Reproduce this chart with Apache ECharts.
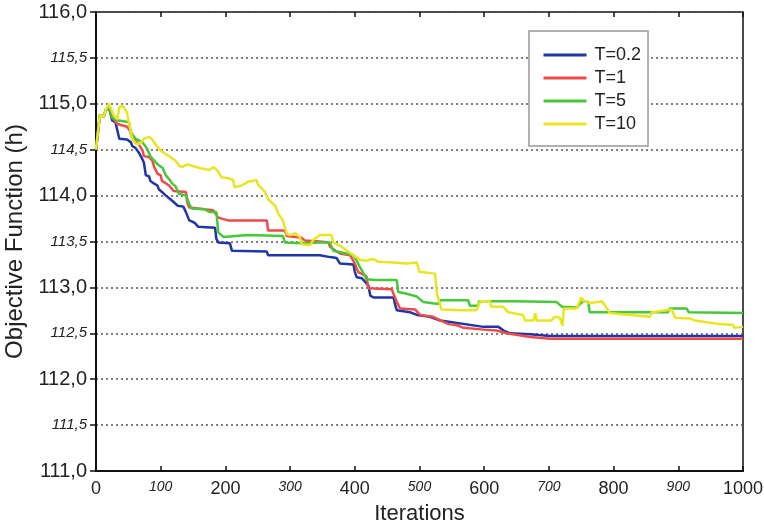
<!DOCTYPE html>
<html>
<head>
<meta charset="utf-8">
<script src="https://cdn.jsdelivr.net/npm/echarts@6/dist/echarts.min.js"></script>
<style>
html,body{margin:0;padding:0;background:#fff;}
#chart{width:764px;height:530px;}
</style>
</head>
<body>
<div id="chart"></div>
<script>
// ---- data ----
const seriesNames = ['T=0.2', 'T=1', 'T=5', 'T=10'];
const xTickLabels = ['0','100','200','300','400','500','600','700','800','900','1000'];
const yTickLabels = ['111,0','111,5','112,0','112,5','113,0','113,5','114,0','114,5','115,0','115,5','116,0'];

const dataT02 = [[0,114.5],[3,114.5],[6,114.88],[12,114.86],[15,114.93],[20,114.96],[25,114.82],[30,114.8],[36,114.62],[48,114.61],[54,114.58],[56,114.54],[61,114.52],[66,114.47],[70,114.42],[74,114.36],[77,114.22],[82,114.21],[84,114.16],[90,114.13],[95,114.11],[97,114.07],[102,114.04],[108,114.0],[115,113.96],[120,113.93],[126,113.89],[135,113.88],[139,113.82],[144,113.73],[148,113.72],[153,113.7],[158,113.66],[184,113.65],[186,113.53],[189,113.49],[207,113.48],[210,113.4],[264,113.39],[266,113.35],[346,113.35],[362,113.33],[372,113.32],[377,113.26],[398,113.25],[400,113.17],[403,113.11],[411,113.1],[421,113.02],[424,112.91],[429,112.89],[460,112.89],[462,112.82],[465,112.75],[485,112.73],[496,112.7],[516,112.68],[532,112.64],[599,112.57],[622,112.57],[630,112.53],[640,112.5],[671,112.49],[702,112.47],[1000,112.47]];

const dataT1 = [[0,114.5],[3,114.5],[6,114.88],[12,114.86],[15,114.93],[20,114.97],[25,114.85],[33,114.78],[36,114.76],[48,114.75],[53,114.7],[56,114.62],[66,114.56],[72,114.49],[74,114.43],[82,114.42],[87,114.38],[90,114.31],[95,114.24],[100,114.22],[102,114.16],[113,114.11],[120,114.05],[139,114.04],[141,113.93],[144,113.87],[181,113.84],[184,113.82],[189,113.76],[204,113.73],[264,113.73],[266,113.62],[292,113.62],[295,113.56],[318,113.54],[323,113.51],[346,113.5],[359,113.49],[362,113.44],[377,113.37],[393,113.35],[400,113.26],[405,113.17],[418,113.12],[421,112.99],[457,112.98],[465,112.84],[470,112.77],[493,112.76],[501,112.7],[521,112.68],[532,112.64],[545,112.6],[557,112.59],[568,112.56],[599,112.54],[619,112.53],[635,112.5],[671,112.46],[702,112.44],[1000,112.44]];

const dataT5 = [[0,114.5],[3,114.5],[6,114.88],[12,114.86],[15,114.93],[20,114.97],[25,114.85],[33,114.82],[51,114.8],[54,114.69],[61,114.62],[72,114.58],[79,114.51],[84,114.43],[90,114.38],[97,114.33],[103,114.3],[108,114.22],[113,114.18],[118,114.13],[123,114.1],[128,114.02],[139,114.0],[141,113.97],[144,113.91],[148,113.86],[168,113.85],[176,113.82],[186,113.82],[189,113.6],[197,113.55],[235,113.57],[289,113.56],[292,113.49],[318,113.48],[346,113.49],[361,113.49],[367,113.4],[387,113.37],[398,113.35],[403,113.29],[408,113.22],[413,113.16],[418,113.09],[431,113.08],[465,113.08],[467,112.95],[480,112.93],[496,112.9],[506,112.84],[529,112.82],[532,112.86],[575,112.86],[578,112.8],[591,112.8],[592,112.85],[645,112.85],[648,112.84],[712,112.84],[720,112.79],[743,112.78],[748,112.82],[753,112.85],[761,112.84],[763,112.73],[884,112.73],[887,112.77],[913,112.77],[916,112.73],[1000,112.72]];

const dataT10 = [[0,114.5],[3,114.5],[6,114.88],[9,114.9],[12,114.86],[15,114.93],[18,114.92],[20,115.0],[23,114.95],[27,114.88],[30,114.87],[33,114.83],[36,114.96],[40,114.98],[44,114.95],[48,114.9],[53,114.72],[56,114.62],[61,114.57],[66,114.56],[70,114.58],[74,114.62],[82,114.64],[86,114.62],[92,114.56],[100,114.49],[108,114.45],[115,114.42],[123,114.38],[128,114.33],[133,114.31],[141,114.34],[151,114.32],[160,114.3],[168,114.29],[175,114.28],[182,114.31],[188,114.27],[194,114.2],[205,114.19],[212,114.17],[214,114.09],[225,114.11],[235,114.15],[248,114.17],[251,114.11],[256,114.08],[261,114.04],[266,113.96],[272,113.92],[277,113.89],[282,113.8],[289,113.73],[292,113.65],[295,113.58],[300,113.57],[308,113.59],[315,113.55],[318,113.47],[331,113.46],[336,113.52],[346,113.57],[364,113.57],[367,113.49],[378,113.45],[388,113.4],[398,113.35],[408,113.3],[418,113.29],[428,113.31],[436,113.28],[459,113.27],[480,113.26],[496,113.27],[500,113.17],[524,113.15],[527,112.93],[534,112.76],[563,112.75],[588,112.75],[594,112.85],[609,112.85],[611,112.79],[629,112.79],[637,112.73],[660,112.7],[663,112.64],[676,112.64],[679,112.72],[681,112.64],[704,112.64],[709,112.68],[717,112.67],[721,112.58],[723,112.77],[743,112.77],[750,112.89],[754,112.85],[763,112.83],[776,112.84],[782,112.85],[787,112.8],[794,112.72],[825,112.7],[828,112.68],[856,112.68],[859,112.73],[890,112.76],[895,112.67],[918,112.66],[926,112.64],[944,112.62],[964,112.6],[985,112.59],[986,112.56],[1000,112.57]];

const seriesData = [dataT02, dataT1, dataT5, dataT10];
const seriesColors = ['#1f35a8', '#f04a4a', '#46c83a', '#e9e522'];

// ---- chart ----
const chart = echarts.init(document.getElementById('chart'), null, {renderer: 'canvas'});
const FONT = 'Liberation Sans, Arial, sans-serif';

const option = {
  animation: false,
  backgroundColor: '#fff',
  grid: {left: 96, right: 21, top: 12, bottom: 59, show: true, borderColor: '#111', borderWidth: 1.5, backgroundColor: 'transparent', containLabel: false, outerBoundsMode: 'none'},
  legend: {
    data: seriesNames,
    orient: 'vertical',
    left: 529, top: 31,
    padding: [15, 7, 13, 13],
    itemWidth: 43, itemHeight: 14, itemGap: 5,
    borderColor: '#999', borderWidth: 1.5,
    backgroundColor: '#fff',
    textStyle: {fontFamily: FONT, fontSize: 18, color: '#222', padding: [0,0,0,3]},
    itemStyle: {opacity: 0},
    lineStyle: {width: 3}
  },
  xAxis: [{
    type: 'value', min: 0, max: 1000, interval: 100,
    name: 'Iterations', nameLocation: 'middle', nameGap: 32,
    nameTextStyle: {fontFamily: FONT, fontSize: 22, color: '#222'},
    axisLine: {show: true, lineStyle: {color: '#111', width: 2}},
    axisTick: {show: true, inside: true, length: 5, lineStyle: {color: '#111', width: 1.5}},
    axisLabel: {
      margin: 9,
      formatter: function (v) {
        const i = Math.round(v / 100);
        const s = xTickLabels[i];
        return (i % 2 === 0) ? '{b|' + s + '}' : '{s|' + s + '}';
      },
      rich: {
        b: {fontFamily: FONT, fontSize: 18, color: '#222'},
        s: {fontFamily: FONT, fontSize: 14, fontStyle: 'italic', color: '#222'}
      }
    },
    splitLine: {show: false}
  }, {
    type: 'value', min: 0, max: 1000, interval: 100, position: 'top',
    axisLine: {show: false},
    axisTick: {show: true, inside: true, length: 5, lineStyle: {color: '#111', width: 1.5}},
    axisLabel: {show: false},
    splitLine: {show: false}
  }],
  yAxis: [{
    type: 'value', min: 111, max: 116, interval: 0.5,
    name: 'Objective Function (h)', nameLocation: 'middle', nameGap: 64, nameRotate: 90,
    nameTextStyle: {fontFamily: FONT, fontSize: 24, color: '#222'},
    axisLine: {show: true, lineStyle: {color: '#111', width: 2}},
    axisTick: {show: true, inside: false, length: 6, interval: function (index) { return index % 2 === 0; }, lineStyle: {color: '#111', width: 1.5}},
    axisLabel: {
      margin: 9,
      formatter: function (v) {
        const i = Math.round((v - 111) / 0.5);
        const s = yTickLabels[i];
        return (i % 2 === 0) ? '{b|' + s + '}' : '{s|' + s + '}';
      },
      rich: {
        b: {fontFamily: FONT, fontSize: 20, color: '#222'},
        s: {fontFamily: FONT, fontSize: 15, fontStyle: 'italic', color: '#222'}
      }
    },
    splitLine: {show: true, lineStyle: {color: '#555', width: 1.5, type: [2, 3]}}
  }, {
    type: 'value', min: 111, max: 116, interval: 0.5, position: 'right',
    axisLine: {show: false},
    axisTick: {show: true, inside: true, length: 5, lineStyle: {color: '#111', width: 1.5}},
    axisLabel: {show: false},
    splitLine: {show: false}
  }],
  series: seriesData.map(function (d, k) {
    return {
      name: seriesNames[k],
      type: 'line',
      data: d,
      xAxisIndex: 0, yAxisIndex: 0,
      symbol: 'none',
      lineStyle: {color: seriesColors[k], width: 2.5},
      itemStyle: {color: seriesColors[k]},
      emphasis: {disabled: true}
    };
  })
};
chart.setOption(option);
</script>
</body>
</html>
